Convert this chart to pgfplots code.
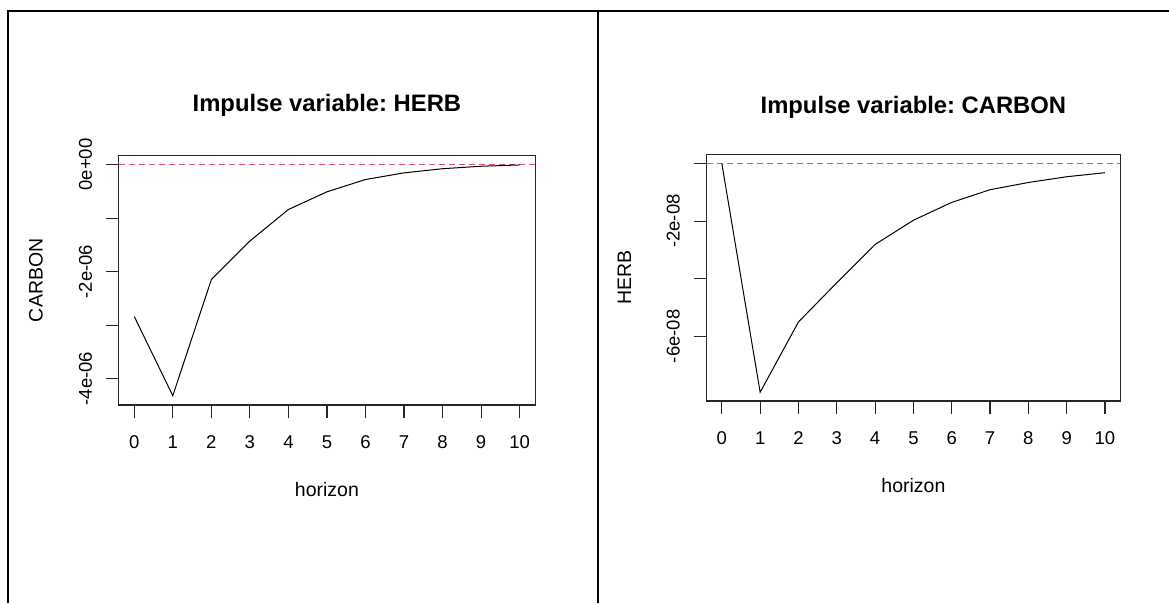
\documentclass[border=0pt]{standalone}
\usepackage{pgfplots}
\pgfplotsset{compat=1.18}
\usepackage{fontspec}
\setmainfont{Liberation Sans}
\frenchspacing
\definecolor{rred}{HTML}{DF536B}
\definecolor{boxc}{HTML}{262626}
\newcommand{\tickfont}{\fontsize{18.5}{21}\selectfont}
\newcommand{\labfont}{\fontsize{19.5}{23}\selectfont}
\newcommand{\titfont}{\fontsize{23.8}{28}\selectfont\bfseries}
\pgfplotsset{
  rstyle/.style={
    scale only axis,
    axis line style={boxc, line width=1.1pt},
    tick style={boxc, line width=1.1pt},
    tick align=outside,
    major tick length=12.5pt,
    xtick pos=bottom, ytick pos=left,
    xmin=-0.4, xmax=10.4,
    xtick={0,1,...,10},
    xticklabels={0,1,2,3,4,5,6,7,8,9,10},
    xticklabel style={font=\tickfont, anchor=center, yshift=-24.3pt, inner sep=0pt},
    yticklabel style={font=\tickfont, xshift=-20.8pt, rotate=90, anchor=center, inner sep=0pt},
    scaled y ticks=false,
    /pgf/number format/assume math mode=true,
    xlabel={horizon},
    xlabel style={font=\labfont, at={(axis description cs:0.5,0)}, anchor=base, yshift=-91.7pt},
    title style={font=\titfont, at={(axis description cs:0.5,1)}, anchor=base},
    clip=false,
  }
}
\begin{document}
\begin{tikzpicture}
\path[use as bounding box] (0,0) rectangle (1169pt,603pt);
% frame of the table
\draw[black, line width=2pt] (8pt,0pt) -- (8pt,592pt);
\draw[black, line width=2pt] (7pt,592pt) -- (1169pt,592pt);
\draw[black, line width=2pt] (598pt,0pt) -- (598pt,592pt);

% left panel
\begin{axis}[rstyle,
  at={(118.85pt,198pt)}, anchor=south west,
  width=416.2pt, height=249.3pt,
  ymin=-4.493e-6, ymax=0.165e-6,
  ytick={-4e-6,-3e-6,-2e-6,-1e-6,0},
  yticklabels={-4e-06,,-2e-06,,0e+00},
  ylabel={CARBON},
  ylabel style={font=\labfont, at={(axis description cs:-0.1994,0.5)}, anchor=center},
  title={Impulse variable: HERB},
  title style={yshift=38pt},
]
\addplot[draw=rred, line width=1.2pt, dash pattern=on 6pt off 4pt] coordinates {(-0.4,0) (10.4,0)};
\addplot[black, line width=1pt] coordinates {
(0,-2.84e-6) (1,-4.32e-6) (2,-2.15e-6) (3,-1.43e-6) (4,-0.84e-6) (5,-0.51e-6)
(6,-0.28e-6) (7,-0.156e-6) (8,-0.078e-6) (9,-0.032e-6) (10,-0.008e-6)};
\end{axis}

% right panel
\begin{axis}[rstyle,
  at={(706.5pt,202pt)}, anchor=south west,
  width=413.8pt, height=246.3pt,
  ymin=-8.244e-8, ymax=0.305e-8,
  ytick={-6e-8,-4e-8,-2e-8,0},
  yticklabels={-6e-08,,-2e-08,},
  ylabel={HERB},
  ylabel style={font=\labfont, at={(axis description cs:-0.1982,0.5)}, anchor=center},
  title={Impulse variable: CARBON},
  title style={yshift=35.4pt},
]
\addplot[draw=rred, line width=1.3pt, dash pattern=on 6pt off 4pt] coordinates {(-0.4,0) (10.4,0)};
\addplot[black, line width=1pt] coordinates {
(0,0) (1,-7.94e-8) (2,-5.50e-8) (3,-4.14e-8) (4,-2.81e-8) (5,-1.97e-8)
(6,-1.35e-8) (7,-0.91e-8) (8,-0.66e-8) (9,-0.46e-8) (10,-0.32e-8)};
\end{axis}
\end{tikzpicture}
\end{document}
